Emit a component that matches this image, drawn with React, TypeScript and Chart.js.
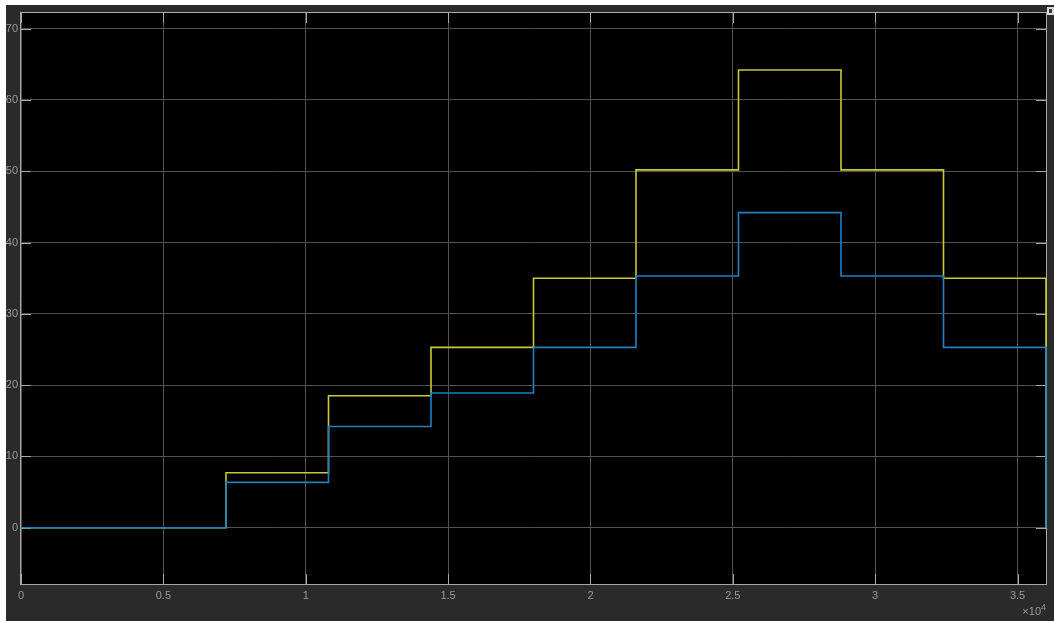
import { useEffect, useRef } from "react";
import { Chart, registerables } from "chart.js";

Chart.register(...registerables);

// Sample times (s) at which each signal changes level; the last entry ends the run.
const times = [0, 7200, 10800, 14400, 18000, 21600, 25200, 28800, 32400, 36000];
// Level held from each time until the next one.
const yellowLevels = [0, 7.7, 18.5, 25.3, 35.0, 50.2, 64.2, 50.2, 35.0, 0];
const blueLevels = [0, 6.35, 14.2, 18.9, 25.3, 35.3, 44.2, 35.3, 25.3, 0];

const xTicks = [0, 5000, 10000, 15000, 20000, 25000, 30000, 35000];
const xTickLabels = ["0", "0.5", "1", "1.5", "2", "2.5", "3", "3.5"];
const xExponent = "4";
const yTicks = [0, 10, 20, 30, 40, 50, 60, 70];
const yTickLabels = ["0", "10", "20", "30", "40", "50", "60", "70"];

const X_MIN = 0;
const X_MAX = 36000;
const Y_MIN = -7.9;
const Y_MAX = 72.2;

const W = 1054;
const H = 621;
const FONT = '"Liberation Sans", Arial, sans-serif';
const LABEL_COLOR = "#9a9a9a";
const AXIS_COLOR = "#a8a8a8";
const GRID_COLOR = "#525252";
const PANEL = "#2a2a2a";

const scopeFrame = {
  id: "scopeFrame",
  beforeDraw(chart: any) {
    const { ctx, chartArea } = chart;
    ctx.save();
    ctx.fillStyle = "#ffffff";
    ctx.fillRect(0, 0, W, H);
    ctx.fillStyle = PANEL;
    ctx.fillRect(6, 5, W - 6, H - 5);
    ctx.fillStyle = "#000000";
    ctx.fillRect(chartArea.left, chartArea.top, chartArea.right - chartArea.left, chartArea.bottom - chartArea.top);
    ctx.restore();
  },
  beforeDatasetsDraw(chart: any) {
    const { ctx, chartArea, scales } = chart;
    const { left, right, top, bottom } = chartArea;
    const tick = 10;
    ctx.save();
    ctx.strokeStyle = AXIS_COLOR;
    ctx.lineWidth = 1;
    ctx.beginPath();
    for (const v of xTicks) {
      const px = Math.round(scales.x.getPixelForValue(v)) + 0.5;
      ctx.moveTo(px, bottom);
      ctx.lineTo(px, bottom - tick);
      ctx.moveTo(px, top);
      ctx.lineTo(px, top + tick);
    }
    for (const v of yTicks) {
      const py = Math.round(scales.y.getPixelForValue(v)) + 0.5;
      ctx.moveTo(left, py);
      ctx.lineTo(left + tick, py);
      ctx.moveTo(right, py);
      ctx.lineTo(right - tick, py);
    }
    ctx.stroke();
    ctx.strokeRect(Math.round(left) - 0.5, Math.round(top) - 0.5, Math.round(right - left) + 1, Math.round(bottom - top) + 1);
    ctx.restore();
  },
  afterDraw(chart: any) {
    const { ctx, chartArea } = chart;
    ctx.save();
    // exponent note under the x axis
    ctx.fillStyle = LABEL_COLOR;
    ctx.textBaseline = "alphabetic";
    ctx.textAlign = "right";
    ctx.font = `9px ${FONT}`;
    const supW = ctx.measureText(xExponent).width;
    ctx.fillText(xExponent, chartArea.right, 610);
    ctx.font = `11px ${FONT}`;
    ctx.fillText("\u00d710", chartArea.right - supW, 615);
    // small corner control
    ctx.fillStyle = "#d8d8d8";
    ctx.fillRect(1047, 7, 7, 8);
    ctx.fillStyle = "#3a3a3a";
    ctx.fillRect(1049, 9, 3, 4);
    ctx.restore();
  },
};

export default function App() {
  const ref = useRef<HTMLCanvasElement | null>(null);

  useEffect(() => {
    const canvas = ref.current;
    if (!canvas) return;
    const toPoints = (levels: number[]) => times.map((t, i) => ({ x: t, y: levels[i] }));

    const chart = new Chart(canvas, {
      type: "line",
      data: {
        datasets: [
          {
            label: "blue",
            data: toPoints(blueLevels),
            borderColor: "#1f80c6",
            borderWidth: 1.6,
            stepped: "before",
            pointRadius: 0,
            fill: false,
            clip: 3,
          },
          {
            label: "yellow",
            data: toPoints(yellowLevels),
            borderColor: "#c9c934",
            borderWidth: 1.6,
            stepped: "before",
            pointRadius: 0,
            fill: false,
            clip: 3,
          },
        ],
      },
      options: {
        animation: false,
        responsive: false,
        devicePixelRatio: 1,
        parsing: false,
        layout: { padding: { top: 13, right: 8, left: 0, bottom: 0 } },
        plugins: { legend: { display: false }, tooltip: { enabled: false } },
        scales: {
          x: {
            type: "linear",
            position: "bottom",
            min: X_MIN,
            max: X_MAX,
            afterBuildTicks: (s: any) => {
              s.ticks = xTicks.map((v) => ({ value: v }));
            },
            afterFit: (s: any) => {
              s.height = 37;
            },
            grid: { color: GRID_COLOR, lineWidth: 1, drawTicks: false },
            border: { display: false },
            ticks: {
              color: LABEL_COLOR,
              font: { family: FONT, size: 11 },
              padding: 5,
              maxRotation: 0,
              autoSkip: false,
              callback: (_v: any, i: number) => xTickLabels[i],
            },
          },
          y: {
            type: "linear",
            min: Y_MIN,
            max: Y_MAX,
            afterBuildTicks: (s: any) => {
              s.ticks = yTicks.map((v) => ({ value: v }));
            },
            afterFit: (s: any) => {
              s.width = 21;
            },
            grid: { color: GRID_COLOR, lineWidth: 1, drawTicks: false },
            border: { display: false },
            ticks: {
              color: LABEL_COLOR,
              font: { family: FONT, size: 11 },
              padding: 3,
              autoSkip: false,
              callback: (_v: any, i: number) => yTickLabels[i],
            },
          },
        },
      },
      plugins: [scopeFrame],
    });

    return () => chart.destroy();
  }, []);

  return (
    <div style={{ position: "fixed", left: 0, top: 0, width: W, height: H, background: "#fff" }}>
      <canvas ref={ref} width={W} height={H} style={{ display: "block", width: W, height: H }} />
    </div>
  );
}
